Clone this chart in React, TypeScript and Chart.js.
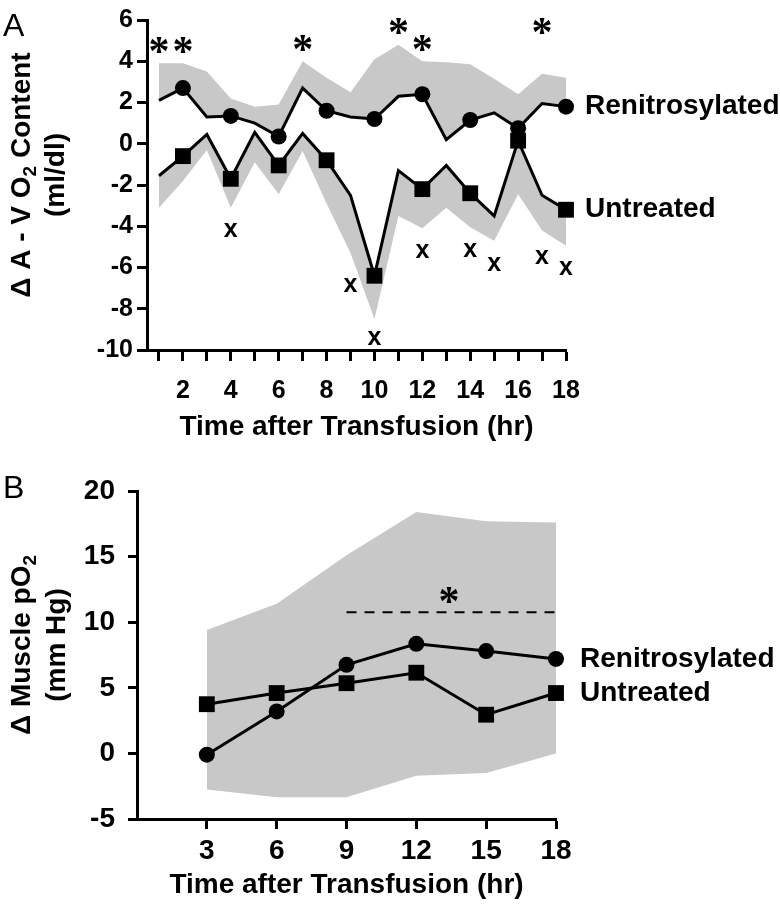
import React, { useEffect, useRef } from 'react';
import { Chart, registerables } from 'chart.js';

Chart.register(...registerables);

const FONT = '"Liberation Sans", Arial, Helvetica, sans-serif';
const SERIF = '"Liberation Serif", "Times New Roman", serif';
const GRAY = 'rgb(200,200,200)';
const BLACK = '#000';

// ---------- Panel A data ----------
const hoursA = [1, 2, 3, 4, 5, 6, 7, 8, 9, 10, 11, 12, 13, 14, 15, 16, 17, 18];
const renitrosylatedA = [2.1, 2.7, 1.3, 1.35, 1.0, 0.35, 2.7, 1.6, 1.3, 1.2, 2.3, 2.4, 0.2, 1.15, 1.5, 0.75, 1.95, 1.8];
const renitrosylatedUpperA = [3.9, 3.9, 3.5, 2.2, 1.8, 1.9, 4.0, 3.2, 2.5, 4.1, 4.8, 4.0, 3.95, 3.85, 3.15, 2.4, 3.4, 3.2];
const untreatedA = [-1.55, -0.6, 0.45, -1.7, 0.55, -1.05, 0.5, -0.8, -2.5, -6.4, -1.3, -2.2, -1.05, -2.4, -3.5, 0.15, -2.5, -3.2];
const untreatedLowerA = [-3.1, -1.8, -0.3, -3.1, -0.9, -2.45, -0.35, -2.9, -5.3, -8.5, -3.5, -4.1, -3.1, -4.05, -4.7, -2.45, -4.2, -4.95];
const yTicksA = [-10, -8, -6, -4, -2, 0, 2, 4, 6];
const asteriskHoursA = [1, 2, 7, 11, 12, 17];
const asteriskLevelsA = [4.75, 4.75, 4.85, 5.65, 4.85, 5.65];
const crossHoursA = [4, 9, 10, 12, 14, 15, 17, 18];
const crossLevelsA = [-4.2, -6.85, -9.4, -5.2, -5.15, -5.85, -5.5, -6.0];

// ---------- Panel B data ----------
const hoursB = [3, 6, 9, 12, 15, 18];
const renitrosylatedB = [-0.1, 3.2, 6.75, 8.35, 7.8, 7.2];
const untreatedB = [3.75, 4.6, 5.35, 6.15, 2.95, 4.6];
const upperB = [9.4, 11.4, 15.1, 18.4, 17.7, 17.6];
const lowerB = [-2.75, -3.35, -3.35, -1.7, -1.5, 0.0];
const yTicksB = [-5, 0, 5, 10, 15, 20];
const sigSpanB = [9, 18];
const sigLevelB = 10.75;
const asteriskHourB = 13.4;
const asteriskLevelB = 12.0;

const pts = (xs: number[], ys: number[]) => xs.map((x, i) => ({ x, y: ys[i] }));

type Part = { t: string; sub?: boolean };

function drawRotated(ctx: CanvasRenderingContext2D, parts: Part[], baseX: number, cy: number, size: number) {
  ctx.save();
  ctx.translate(baseX, cy);
  ctx.rotate(-Math.PI / 2);
  const main = `bold ${size}px ${FONT}`;
  const sub = `bold ${Math.round(size * 0.68)}px ${FONT}`;
  const widths = parts.map((p) => {
    ctx.font = p.sub ? sub : main;
    return ctx.measureText(p.t).width;
  });
  const total = widths.reduce((a, b) => a + b, 0);
  let x = -total / 2;
  ctx.textAlign = 'left';
  ctx.textBaseline = 'alphabetic';
  ctx.fillStyle = BLACK;
  parts.forEach((p, i) => {
    ctx.font = p.sub ? sub : main;
    ctx.fillText(p.t, x, p.sub ? size * 0.22 : 0);
    x += widths[i];
  });
  ctx.restore();
}

const panelAPlugin = {
  id: 'panelA',
  afterDraw(chart: any) {
    const { ctx, scales, chartArea } = chart;
    const x = scales.x;
    const y = scales.y;
    ctx.save();
    ctx.fillStyle = BLACK;
    ctx.font = `32px ${FONT}`;
    ctx.textAlign = 'left';
    ctx.textBaseline = 'alphabetic';
    ctx.fillText('A', 3, 36);

    const cy = (chartArea.top + chartArea.bottom) / 2 - 10;
    drawRotated(ctx, [{ t: 'Δ A - V O' }, { t: '2', sub: true }, { t: ' Content' }], 30, cy, 28);
    drawRotated(ctx, [{ t: '(ml/dl)' }], 64, cy, 28);

    ctx.font = `bold 42px ${SERIF}`;
    ctx.textAlign = 'center';
    ctx.textBaseline = 'alphabetic';
    asteriskHoursA.forEach((h, i) => {
      ctx.fillText('*', x.getPixelForValue(h), y.getPixelForValue(asteriskLevelsA[i]) + 19);
    });

    ctx.font = `bold 25px ${FONT}`;
    crossHoursA.forEach((h, i) => {
      ctx.fillText('x', x.getPixelForValue(h), y.getPixelForValue(crossLevelsA[i]) + 7);
    });

    const last = hoursA.length - 1;
    const lx = x.getPixelForValue(hoursA[last]) + 19;
    ctx.font = `bold 28px ${FONT}`;
    ctx.textAlign = 'left';
    ctx.textBaseline = 'middle';
    ctx.fillText('Renitrosylated', lx, y.getPixelForValue(renitrosylatedA[last]));
    ctx.fillText('Untreated', lx, y.getPixelForValue(untreatedA[last]));
    ctx.restore();
  },
};

const panelBPlugin = {
  id: 'panelB',
  afterDraw(chart: any) {
    const { ctx, scales, chartArea } = chart;
    const x = scales.x;
    const y = scales.y;
    ctx.save();
    ctx.fillStyle = BLACK;
    ctx.font = `32px ${FONT}`;
    ctx.textAlign = 'left';
    ctx.textBaseline = 'alphabetic';
    ctx.fillText('B', 3, 38);

    const cy = (chartArea.top + chartArea.bottom) / 2 - 10;
    drawRotated(ctx, [{ t: 'Δ Muscle pO' }, { t: '2', sub: true }], 30, cy, 28);
    drawRotated(ctx, [{ t: '(mm Hg)' }], 65, cy, 28);

    ctx.font = `bold 42px ${SERIF}`;
    ctx.textAlign = 'center';
    ctx.fillText('*', x.getPixelForValue(asteriskHourB), y.getPixelForValue(asteriskLevelB) + 19);

    const last = hoursB.length - 1;
    const lx = x.getPixelForValue(hoursB[last]) + 24;
    ctx.font = `bold 28px ${FONT}`;
    ctx.textAlign = 'left';
    ctx.textBaseline = 'middle';
    ctx.fillText('Renitrosylated', lx, y.getPixelForValue(renitrosylatedB[last]));
    ctx.fillText('Untreated', lx, y.getPixelForValue(untreatedB[last]));
    ctx.restore();
  },
};

function lineDataset(label: string, data: any[], style: string, radius: (h: number) => number) {
  return {
    label,
    data,
    borderColor: BLACK,
    borderWidth: 3,
    backgroundColor: BLACK,
    pointBackgroundColor: BLACK,
    pointBorderWidth: 0,
    pointStyle: style,
    pointRadius: (c: any) => radius(c.raw ? c.raw.x : 0),
    pointHoverRadius: (c: any) => radius(c.raw ? c.raw.x : 0),
    fill: false,
    tension: 0,
    clip: false,
  };
}

function bandDataset(label: string, data: any[], target: number | boolean) {
  return {
    label,
    data,
    borderWidth: 0,
    borderColor: 'rgba(0,0,0,0)',
    backgroundColor: GRAY,
    pointRadius: 0,
    fill: target,
    tension: 0,
    clip: false,
  };
}

function buildA(): any {
  return {
    type: 'line',
    data: {
      datasets: [
        lineDataset('Renitrosylated', pts(hoursA, renitrosylatedA), 'circle', (h) => (h % 2 === 0 ? 8 : 0)),
        lineDataset('Untreated', pts(hoursA, untreatedA), 'rect', (h) => (h % 2 === 0 ? 11.2 : 0)),
        bandDataset('Renitrosylated upper', pts(hoursA, renitrosylatedUpperA), 0),
        bandDataset('Untreated lower', pts(hoursA, untreatedLowerA), 1),
      ],
    },
    options: {
      responsive: false,
      animation: false,
      devicePixelRatio: 1,
      events: [],
      layout: { padding: { left: 0, top: 20, right: 214, bottom: 0 } },
      plugins: {
        legend: { display: false },
        tooltip: { enabled: false },
        filler: { drawTime: 'beforeDatasetsDraw' },
      },
      scales: {
        x: {
          type: 'linear',
          min: 0.5,
          max: 18,
          afterBuildTicks: (s: any) => {
            s.ticks = hoursA.map((v) => ({ value: v }));
          },
          afterFit: (s: any) => {
            s.height = 110;
          },
          ticks: {
            autoSkip: false,
            maxRotation: 0,
            color: BLACK,
            padding: 15,
            font: { family: FONT, size: 25, weight: 'bold' },
            callback: (v: any) => (Number(v) % 2 === 0 ? String(v) : ''),
          },
          grid: { drawOnChartArea: false, tickLength: 11, tickWidth: 3, tickColor: BLACK, color: BLACK },
          border: { display: true, color: BLACK, width: 3 },
          title: {
            display: true,
            text: 'Time after Transfusion (hr)',
            color: BLACK,
            font: { family: FONT, size: 28, weight: 'bold' },
            padding: { top: 0, bottom: 16 },
          },
        },
        y: {
          type: 'linear',
          min: -10,
          max: 6,
          afterBuildTicks: (s: any) => {
            s.ticks = yTicksA.map((v) => ({ value: v }));
          },
          afterFit: (s: any) => {
            s.width = 147;
          },
          ticks: {
            color: BLACK,
            padding: 4,
            font: { family: FONT, size: 25, weight: 'bold' },
          },
          grid: { drawOnChartArea: false, tickLength: 10, tickWidth: 3, tickColor: BLACK, color: BLACK },
          border: { display: true, color: BLACK, width: 3 },
        },
      },
    },
    plugins: [panelAPlugin],
  };
}

function buildB(): any {
  return {
    type: 'line',
    data: {
      datasets: [
        lineDataset('Renitrosylated', pts(hoursB, renitrosylatedB), 'circle', () => 8),
        lineDataset('Untreated', pts(hoursB, untreatedB), 'rect', () => 11.2),
        {
          label: 'Significance',
          data: sigSpanB.map((h) => ({ x: h, y: sigLevelB })),
          borderColor: BLACK,
          borderWidth: 2,
          borderDash: [10, 8],
          pointRadius: 0,
          fill: false,
          clip: false,
        },
        bandDataset('Upper', pts(hoursB, upperB), 4),
        bandDataset('Lower', pts(hoursB, lowerB), false),
      ],
    },
    options: {
      responsive: false,
      animation: false,
      devicePixelRatio: 1,
      events: [],
      layout: { padding: { left: 0, top: 31, right: 224, bottom: 0 } },
      plugins: {
        legend: { display: false },
        tooltip: { enabled: false },
        filler: { drawTime: 'beforeDatasetsDraw' },
      },
      scales: {
        x: {
          type: 'linear',
          min: 0,
          max: 18,
          afterBuildTicks: (s: any) => {
            s.ticks = hoursB.map((v) => ({ value: v }));
          },
          afterFit: (s: any) => {
            s.height = 88;
          },
          ticks: {
            autoSkip: false,
            maxRotation: 0,
            color: BLACK,
            padding: 5,
            font: { family: FONT, size: 28, weight: 'bold' },
          },
          grid: { drawOnChartArea: false, tickLength: 10, tickWidth: 3, tickColor: BLACK, color: BLACK },
          border: { display: true, color: BLACK, width: 3 },
          title: {
            display: true,
            text: 'Time after Transfusion (hr)',
            color: BLACK,
            font: { family: FONT, size: 28, weight: 'bold' },
            padding: { top: 0, bottom: 5 },
          },
        },
        y: {
          type: 'linear',
          min: -5,
          max: 20,
          afterBuildTicks: (s: any) => {
            s.ticks = yTicksB.map((v) => ({ value: v }));
          },
          afterFit: (s: any) => {
            s.width = 137;
          },
          ticks: {
            color: BLACK,
            padding: 13,
            font: { family: FONT, size: 28, weight: 'bold' },
          },
          grid: { drawOnChartArea: false, tickLength: 9, tickWidth: 3, tickColor: BLACK, color: BLACK },
          border: { display: true, color: BLACK, width: 3 },
        },
      },
    },
    plugins: [panelBPlugin],
  };
}

function PanelCanvas({ build, top, height }: { build: () => any; top: number; height: number }) {
  const ref = useRef<HTMLCanvasElement>(null);
  useEffect(() => {
    if (!ref.current) return;
    const chart = new Chart(ref.current, build());
    return () => chart.destroy();
  }, []);
  return (
    <canvas
      ref={ref}
      width={780}
      height={height}
      style={{ position: 'absolute', left: 0, top, width: 780, height, display: 'block' }}
    />
  );
}

export default function App() {
  return (
    <div style={{ position: 'absolute', left: 0, top: 0, width: 780, height: 907, background: '#fff', overflow: 'hidden' }}>
      <PanelCanvas build={buildA} top={0} height={460} />
      <PanelCanvas build={buildB} top={460} height={447} />
    </div>
  );
}
